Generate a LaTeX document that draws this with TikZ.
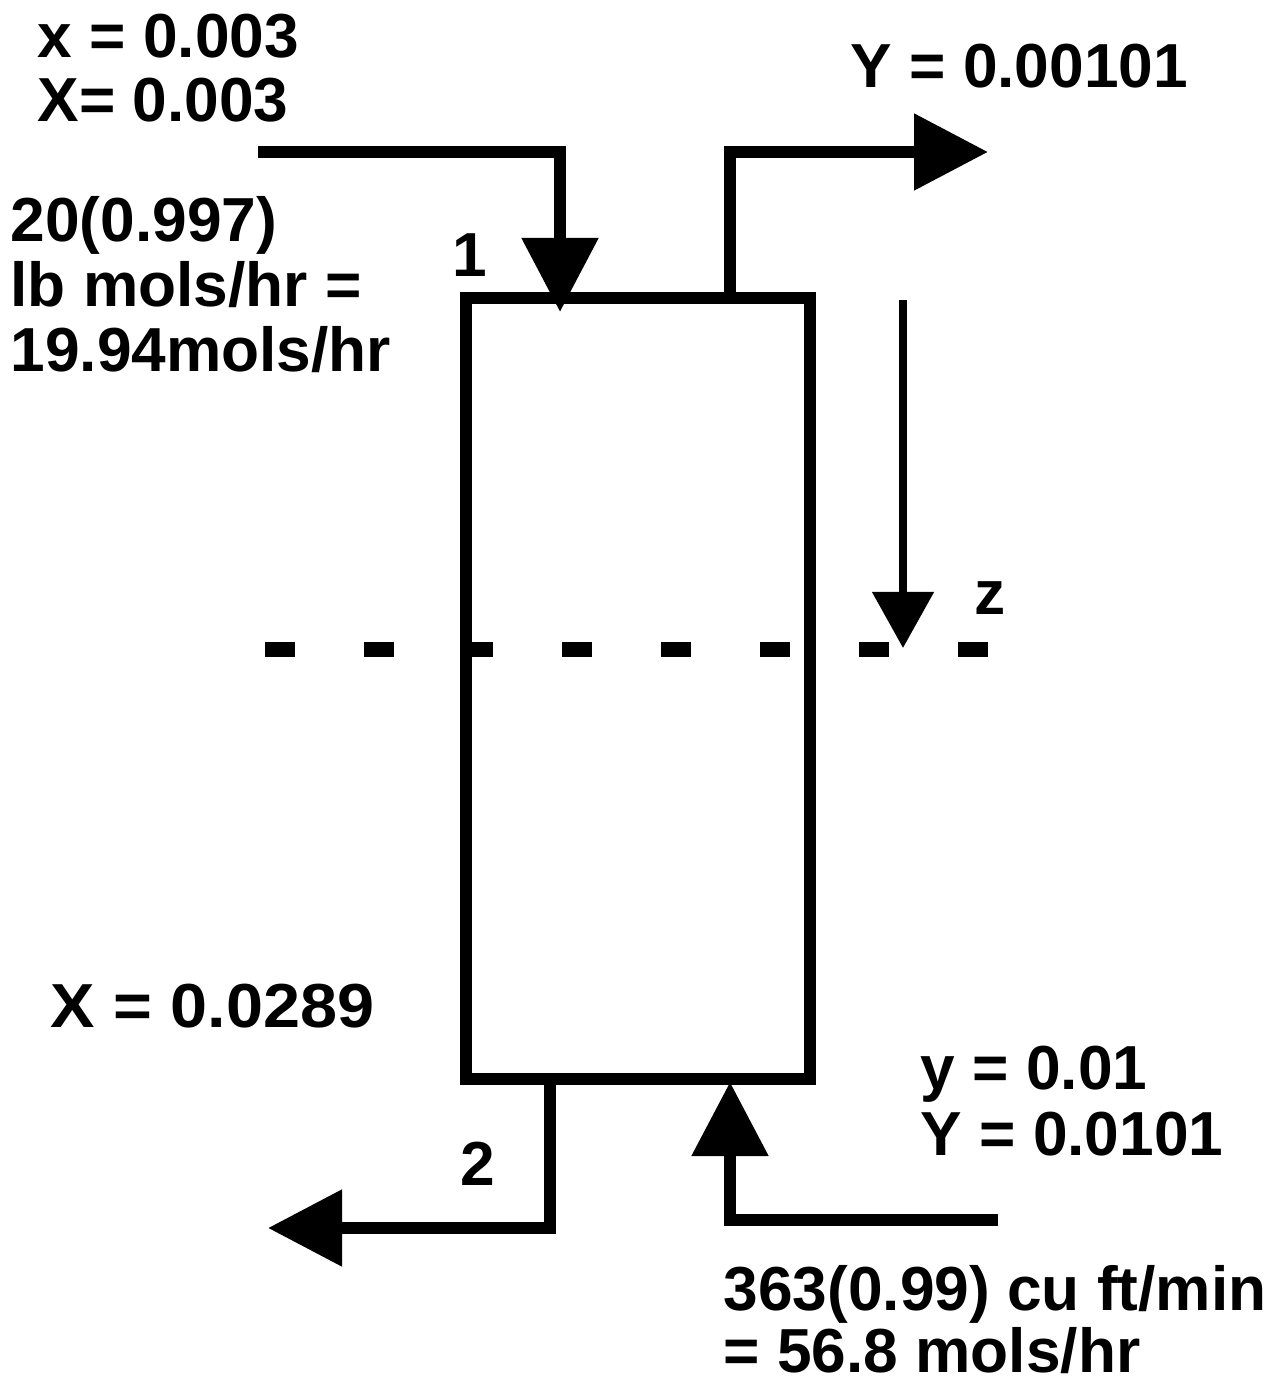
\documentclass[tikz,border=0pt]{standalone}
\usepackage{fontspec}
\setmainfont{Liberation Sans}
\usetikzlibrary{arrows.meta, positioning, calc}

\begin{document}
\begin{tikzpicture}[
  pipe/.style={line width=0.12cm},
  bigtip/.style={-{Triangle[length=7.4mm, width=7.4mm]}},
  column/.style={draw, line width=0.12cm, minimum width=3.44cm,
                 minimum height=7.81cm, inner sep=0pt, outer sep=0pt},
  txt/.style={font=\bfseries\fontsize{17.7}{18.3}\selectfont,
              anchor=base west, inner sep=0pt},
]
\useasboundingbox (0,0) rectangle (12.75,-13.84);
\node[column] (col) at (6.38,-6.885) {};

\coordinate (feed) at (2.58,-1.52);
\coordinate (gasout) at (9.88,-1.52);
\coordinate (liqout) at (2.68,-12.28);
\coordinate (gasin) at (9.98,-12.20);
\draw[pipe, bigtip] (feed) -| ($(col.north west)+(0.94,-0.14)$);
\draw[pipe, bigtip] ($(col.north west)+(2.64,0)$) |- (gasout);
\draw[pipe, bigtip] ($(col.south west)+(0.84,0)$) |- (liqout);
\draw[pipe, bigtip] (gasin) -| ($(col.south west)+(2.64,-0.03)$);

\coordinate (ztop) at (9.03,-3.00);
\coordinate (zend) at (9.03,-6.48);
\draw[line width=0.08cm, -{Triangle[length=5.6mm, width=6mm]}] (ztop) -- (zend);

\coordinate (cutl) at (2.65,-6.50);
\coordinate (cutr) at (9.88,-6.50);
\draw[line width=0.15cm, dash pattern=on 0.30cm off 0.69cm] (cutl) -- (cutr);

\foreach \t [count=\i] in {{x = 0.003}, {X= 0.003}}
  \node[txt] (feedtxt\i) at (0.37,{-0.58-0.64*(\i-1)}) {\t};
\foreach \t [count=\i] in {{20(0.997)}, {lb mols/hr =}, {19.94mols/hr}}
  \node[txt] (feedrate\i) at (0.10,{-2.42-0.65*(\i-1)}) {\t};
\node[txt] (top) at (4.52,-2.77) {1};
\node[txt] (gasouttxt) at (8.50,-0.88) {Y = 0.00101};
\node[txt] (zlbl) at (9.74,-6.15) {z};
\node[txt] (liqouttxt) at (0.50,-10.27) {\scalebox{1.07}[1]{X = 0.0289}};
\foreach \t [count=\i] in {{y = 0.01}, {Y = 0.0101}}
  \node[txt] (gasintxt\i) at (9.20,{-10.89-0.66*(\i-1)}) {\t};
\node[txt] (bottom) at (4.60,-11.85) {2};
\foreach \t [count=\i] in {{363(0.99) cu ft/min}, {= 56.8 mols/hr}}
  \node[txt] (gasrate\i) at (7.23,{-13.10-0.62*(\i-1)}) {\t};
\end{tikzpicture}
\end{document}
